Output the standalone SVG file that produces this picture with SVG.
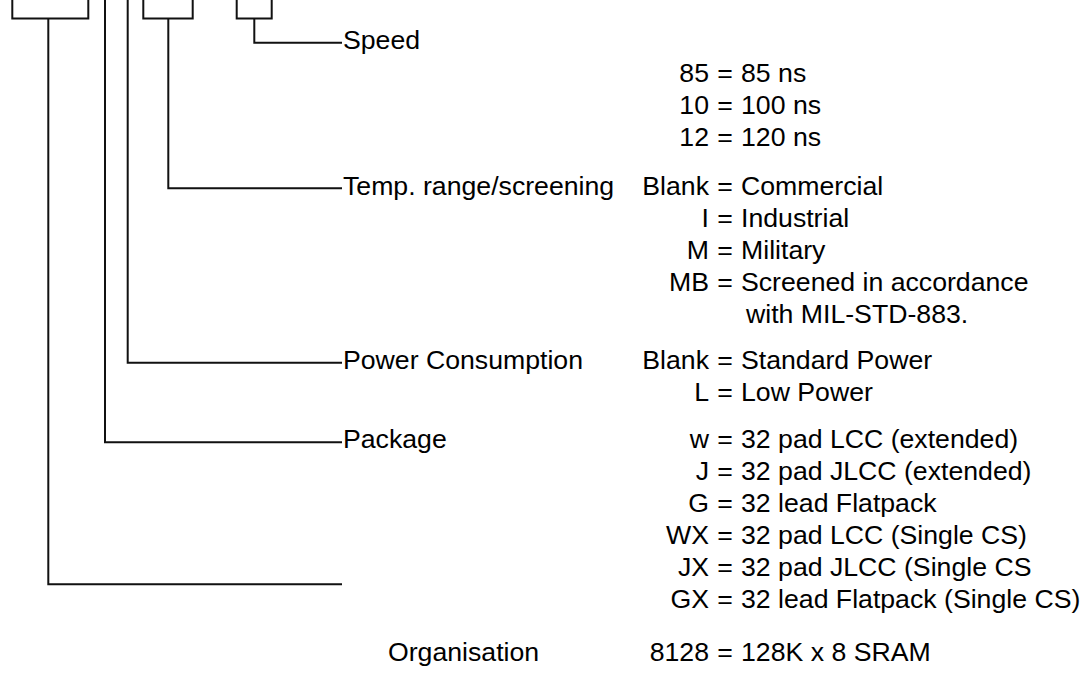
<svg xmlns="http://www.w3.org/2000/svg" width="1086" height="677" viewBox="0 0 1086 677">
<style>
.ln{fill:none;stroke:#111;stroke-width:2;}
text{font-family:"Liberation Sans",Arial,sans-serif;font-size:26.67px;fill:#000;}
.c{text-anchor:end;}
.e{text-anchor:middle;}
</style>
<rect width="1086" height="677" fill="#fff"/>
<g id="connectors">
<path class="ln" d="M12.3,0 V18.4 H88.3 V0 M48.3,18.4 V584.3 H342"/>
<path class="ln" d="M105,0 V442.3 H342"/>
<path class="ln" d="M127.7,0 V362.7 H342"/>
<path class="ln" d="M143.3,0 V18.4 H192.7 V0 M168.3,18.4 V188.3 H342"/>
<path class="ln" d="M236.7,0 V18.4 H271.7 V0 M254.3,18.4 V42.7 H342"/>
</g>
<g id="speed">
<text x="343" y="49">Speed</text>
<text class="c" x="709" y="82">85</text><text class="e" x="725" y="82">=</text><text x="741" y="82">85 ns</text>
<text class="c" x="709" y="114">10</text><text class="e" x="725" y="114">=</text><text x="741" y="114">100 ns</text>
<text class="c" x="709" y="146">12</text><text class="e" x="725" y="146">=</text><text x="741" y="146">120 ns</text>
</g>
<g id="temp">
<text x="343" y="195">Temp. range/screening</text>
<text class="c" x="709" y="195">Blank</text><text class="e" x="725" y="195">=</text><text x="741" y="195">Commercial</text>
<text class="c" x="709" y="227">I</text><text class="e" x="725" y="227">=</text><text x="741" y="227">Industrial</text>
<text class="c" x="709" y="259">M</text><text class="e" x="725" y="259">=</text><text x="741" y="259">Military</text>
<text class="c" x="709" y="291">MB</text><text class="e" x="725" y="291">=</text><text x="741" y="291">Screened in accordance</text>
<text x="746" y="323">with MIL-STD-883.</text>
</g>
<g id="power">
<text x="343" y="369">Power Consumption</text>
<text class="c" x="709" y="369">Blank</text><text class="e" x="725" y="369">=</text><text x="741" y="369">Standard Power</text>
<text class="c" x="709" y="401">L</text><text class="e" x="725" y="401">=</text><text x="741" y="401">Low Power</text>
</g>
<g id="package">
<text x="343" y="448">Package</text>
<text class="c" x="709" y="448">w</text><text class="e" x="725" y="448">=</text><text x="741" y="448">32 pad LCC (extended)</text>
<text class="c" x="709" y="480">J</text><text class="e" x="725" y="480">=</text><text x="741" y="480">32 pad JLCC (extended)</text>
<text class="c" x="709" y="512">G</text><text class="e" x="725" y="512">=</text><text x="741" y="512">32 lead Flatpack</text>
<text class="c" x="709" y="544">WX</text><text class="e" x="725" y="544">=</text><text x="741" y="544">32 pad LCC (Single CS)</text>
<text class="c" x="709" y="576">JX</text><text class="e" x="725" y="576">=</text><text x="741" y="576">32 pad JLCC (Single CS</text>
<text class="c" x="709" y="608">GX</text><text class="e" x="725" y="608">=</text><text x="741" y="608">32 lead Flatpack (Single CS)</text>
</g>
<g id="organisation">
<text x="388" y="661">Organisation</text>
<text class="c" x="709" y="661">8128</text><text class="e" x="725" y="661">=</text><text x="741" y="661">128K x 8 SRAM</text>
</g>
</svg>
